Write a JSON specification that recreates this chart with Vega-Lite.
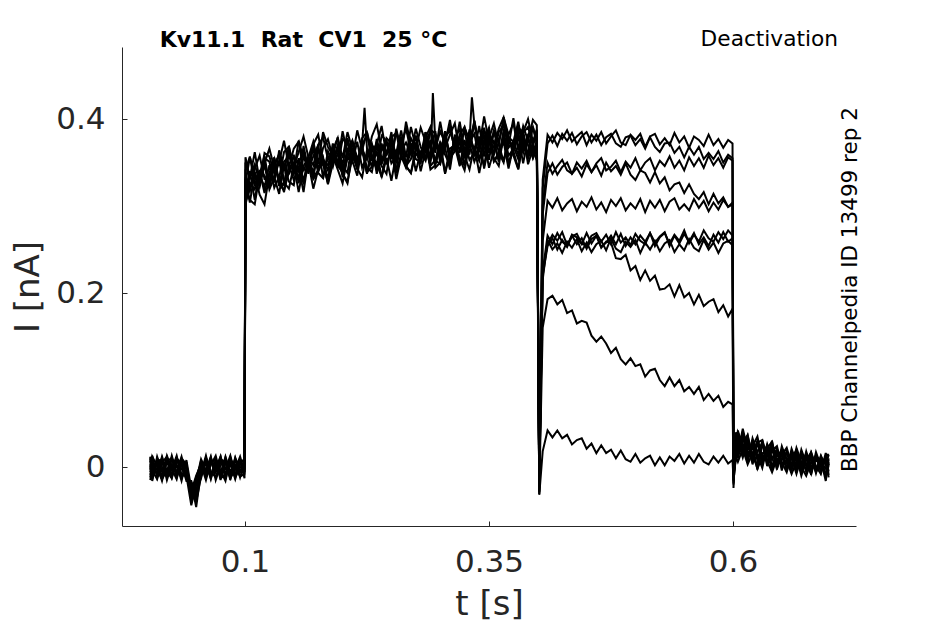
{
"$schema": "https://vega.github.io/schema/vega-lite/v6.json",
"width": 734, "height": 479,
"autosize": {"type": "none"},
"padding": {"left": 122, "top": 47, "right": 89, "bottom": 98},
"background": "white",
"config": {"view": {"stroke": null}, "font": "DejaVu Sans",
 "axis": {"grid": false, "domainColor": "#262626", "tickColor": "#262626", "labelColor": "#262626", "titleColor": "#262626", "labelFont": "DejaVu Sans", "titleFont": "DejaVu Sans", "labelFontSize": 31, "titleFontSize": 34, "titleFontWeight": "normal", "domainWidth": 1, "tickWidth": 1}},
"layer": [
{"data": {"values": [
{"s":1,"t":0.003,"i":0.004},{"s":1,"t":0.005,"i":-0.01},{"s":1,"t":0.01,"i":0.008},{"s":1,"t":0.015,"i":-0.013},{"s":1,"t":0.02,"i":0.006},{"s":1,"t":0.025,"i":-0.004},{"s":1,"t":0.03,"i":0.011},{"s":1,"t":0.035,"i":-0.009},{"s":1,"t":0.04,"i":-0.006},{"s":1,"t":0.045,"i":-0.03},{"s":1,"t":0.05,"i":-0.012},{"s":1,"t":0.055,"i":0.005},{"s":1,"t":0.06,"i":-0.011},{"s":1,"t":0.065,"i":0.009},{"s":1,"t":0.07,"i":-0.003},{"s":1,"t":0.075,"i":0.012},{"s":1,"t":0.08,"i":-0.008},{"s":1,"t":0.085,"i":0.004},{"s":1,"t":0.09,"i":-0.014},{"s":1,"t":0.095,"i":0.007},{"s":1,"t":0.0995,"i":-0.004},
{"s":1,"t":0.1005,"i":0.35},{"s":1,"t":0.105,"i":0.332},{"s":1,"t":0.11,"i":0.362},{"s":1,"t":0.115,"i":0.329},{"s":1,"t":0.12,"i":0.349},{"s":1,"t":0.125,"i":0.366},{"s":1,"t":0.13,"i":0.344},{"s":1,"t":0.135,"i":0.332},{"s":1,"t":0.14,"i":0.362},{"s":1,"t":0.145,"i":0.368},{"s":1,"t":0.15,"i":0.345},{"s":1,"t":0.155,"i":0.362},{"s":1,"t":0.16,"i":0.38},{"s":1,"t":0.165,"i":0.356},{"s":1,"t":0.17,"i":0.347},{"s":1,"t":0.175,"i":0.37},{"s":1,"t":0.18,"i":0.379},{"s":1,"t":0.185,"i":0.354},{"s":1,"t":0.19,"i":0.366},{"s":1,"t":0.195,"i":0.345},{"s":1,"t":0.2,"i":0.377},{"s":1,"t":0.205,"i":0.372},{"s":1,"t":0.21,"i":0.354},{"s":1,"t":0.215,"i":0.387},{"s":1,"t":0.22,"i":0.365},{"s":1,"t":0.225,"i":0.353},{"s":1,"t":0.23,"i":0.38},{"s":1,"t":0.235,"i":0.394},{"s":1,"t":0.24,"i":0.364},{"s":1,"t":0.245,"i":0.372},{"s":1,"t":0.25,"i":0.354},{"s":1,"t":0.255,"i":0.385},{"s":1,"t":0.26,"i":0.371},{"s":1,"t":0.265,"i":0.389},{"s":1,"t":0.27,"i":0.362},{"s":1,"t":0.275,"i":0.381},{"s":1,"t":0.28,"i":0.354},{"s":1,"t":0.285,"i":0.379},{"s":1,"t":0.29,"i":0.391},{"s":1,"t":0.295,"i":0.366},{"s":1,"t":0.3,"i":0.386},{"s":1,"t":0.305,"i":0.372},{"s":1,"t":0.31,"i":0.399},{"s":1,"t":0.315,"i":0.363},{"s":1,"t":0.32,"i":0.382},{"s":1,"t":0.325,"i":0.391},{"s":1,"t":0.33,"i":0.371},{"s":1,"t":0.335,"i":0.398},{"s":1,"t":0.34,"i":0.363},{"s":1,"t":0.345,"i":0.386},{"s":1,"t":0.35,"i":0.378},{"s":1,"t":0.355,"i":0.395},{"s":1,"t":0.36,"i":0.37},{"s":1,"t":0.365,"i":0.402},{"s":1,"t":0.37,"i":0.376},{"s":1,"t":0.375,"i":0.368},{"s":1,"t":0.38,"i":0.39},{"s":1,"t":0.385,"i":0.385},{"s":1,"t":0.39,"i":0.4},{"s":1,"t":0.395,"i":0.374},{"s":1,"t":0.399,"i":0.388},
{"s":1,"t":0.4015,"i":-0.031},{"s":1,"t":0.405,"i":0.33},
{"s":1,"t":0.41,"i":0.382},{"s":1,"t":0.415,"i":0.373},{"s":1,"t":0.42,"i":0.384},{"s":1,"t":0.425,"i":0.377},{"s":1,"t":0.43,"i":0.387},{"s":1,"t":0.435,"i":0.374},{"s":1,"t":0.44,"i":0.38},{"s":1,"t":0.445,"i":0.385},{"s":1,"t":0.45,"i":0.37},{"s":1,"t":0.455,"i":0.382},{"s":1,"t":0.46,"i":0.375},{"s":1,"t":0.465,"i":0.385},{"s":1,"t":0.47,"i":0.372},{"s":1,"t":0.475,"i":0.38},{"s":1,"t":0.48,"i":0.387},{"s":1,"t":0.485,"i":0.373},{"s":1,"t":0.49,"i":0.37},{"s":1,"t":0.495,"i":0.382},{"s":1,"t":0.5,"i":0.376},{"s":1,"t":0.505,"i":0.383},{"s":1,"t":0.51,"i":0.368},{"s":1,"t":0.515,"i":0.38},{"s":1,"t":0.52,"i":0.383},{"s":1,"t":0.525,"i":0.371},{"s":1,"t":0.53,"i":0.378},{"s":1,"t":0.535,"i":0.37},{"s":1,"t":0.54,"i":0.384},{"s":1,"t":0.545,"i":0.373},{"s":1,"t":0.55,"i":0.38},{"s":1,"t":0.555,"i":0.367},{"s":1,"t":0.56,"i":0.38},{"s":1,"t":0.565,"i":0.376},{"s":1,"t":0.57,"i":0.369},{"s":1,"t":0.575,"i":0.382},{"s":1,"t":0.58,"i":0.37},{"s":1,"t":0.585,"i":0.377},{"s":1,"t":0.59,"i":0.367},{"s":1,"t":0.595,"i":0.376},{"s":1,"t":0.5995,"i":0.372},{"s":1,"t":0.6005,"i":-0.024},
{"s":1,"t":0.603,"i":0.04},{"s":1,"t":0.605,"i":0.022},{"s":1,"t":0.61,"i":0.036},{"s":1,"t":0.615,"i":0.01},{"s":1,"t":0.62,"i":0.031},{"s":1,"t":0.625,"i":0.008},{"s":1,"t":0.63,"i":0.027},{"s":1,"t":0.635,"i":0.001},{"s":1,"t":0.64,"i":0.024},{"s":1,"t":0.645,"i":0.004},{"s":1,"t":0.65,"i":0.02},{"s":1,"t":0.655,"i":-0.002},{"s":1,"t":0.66,"i":0.018},{"s":1,"t":0.665,"i":0.0},{"s":1,"t":0.67,"i":0.016},{"s":1,"t":0.675,"i":-0.006},{"s":1,"t":0.68,"i":0.014},{"s":1,"t":0.685,"i":-0.004},{"s":1,"t":0.69,"i":0.012},{"s":1,"t":0.695,"i":-0.01},{"s":1,"t":0.698,"i":0.01},

{"s":2,"t":0.003,"i":-0.012},{"s":2,"t":0.005,"i":0.006},{"s":2,"t":0.01,"i":-0.008},{"s":2,"t":0.015,"i":0.01},{"s":2,"t":0.02,"i":-0.015},{"s":2,"t":0.025,"i":0.003},{"s":2,"t":0.03,"i":-0.006},{"s":2,"t":0.035,"i":0.012},{"s":2,"t":0.04,"i":-0.01},{"s":2,"t":0.045,"i":-0.044},{"s":2,"t":0.05,"i":-0.02},{"s":2,"t":0.055,"i":-0.009},{"s":2,"t":0.06,"i":0.008},{"s":2,"t":0.065,"i":-0.013},{"s":2,"t":0.07,"i":0.004},{"s":2,"t":0.075,"i":-0.007},{"s":2,"t":0.08,"i":0.011},{"s":2,"t":0.085,"i":-0.012},{"s":2,"t":0.09,"i":0.002},{"s":2,"t":0.095,"i":0.009},{"s":2,"t":0.0995,"i":-0.006},
{"s":2,"t":0.1005,"i":0.301},{"s":2,"t":0.105,"i":0.327},{"s":2,"t":0.11,"i":0.319},{"s":2,"t":0.115,"i":0.34},{"s":2,"t":0.12,"i":0.315},{"s":2,"t":0.125,"i":0.338},{"s":2,"t":0.13,"i":0.354},{"s":2,"t":0.135,"i":0.325},{"s":2,"t":0.14,"i":0.318},{"s":2,"t":0.145,"i":0.339},{"s":2,"t":0.15,"i":0.348},{"s":2,"t":0.155,"i":0.316},{"s":2,"t":0.16,"i":0.346},{"s":2,"t":0.165,"i":0.356},{"s":2,"t":0.17,"i":0.333},{"s":2,"t":0.175,"i":0.341},{"s":2,"t":0.18,"i":0.356},{"s":2,"t":0.185,"i":0.33},{"s":2,"t":0.19,"i":0.365},{"s":2,"t":0.195,"i":0.351},{"s":2,"t":0.2,"i":0.337},{"s":2,"t":0.205,"i":0.328},{"s":2,"t":0.21,"i":0.356},{"s":2,"t":0.215,"i":0.352},{"s":2,"t":0.22,"i":0.365},{"s":2,"t":0.225,"i":0.344},{"s":2,"t":0.23,"i":0.339},{"s":2,"t":0.235,"i":0.369},{"s":2,"t":0.24,"i":0.349},{"s":2,"t":0.245,"i":0.362},{"s":2,"t":0.25,"i":0.375},{"s":2,"t":0.255,"i":0.338},{"s":2,"t":0.26,"i":0.36},{"s":2,"t":0.265,"i":0.346},{"s":2,"t":0.27,"i":0.338},{"s":2,"t":0.275,"i":0.367},{"s":2,"t":0.28,"i":0.357},{"s":2,"t":0.285,"i":0.375},{"s":2,"t":0.29,"i":0.346},{"s":2,"t":0.295,"i":0.353},{"s":2,"t":0.3,"i":0.374},{"s":2,"t":0.305,"i":0.338},{"s":2,"t":0.31,"i":0.366},{"s":2,"t":0.315,"i":0.37},{"s":2,"t":0.32,"i":0.354},{"s":2,"t":0.325,"i":0.347},{"s":2,"t":0.33,"i":0.38},{"s":2,"t":0.335,"i":0.365},{"s":2,"t":0.34,"i":0.352},{"s":2,"t":0.345,"i":0.376},{"s":2,"t":0.35,"i":0.344},{"s":2,"t":0.355,"i":0.364},{"s":2,"t":0.36,"i":0.371},{"s":2,"t":0.365,"i":0.351},{"s":2,"t":0.37,"i":0.38},{"s":2,"t":0.375,"i":0.358},{"s":2,"t":0.38,"i":0.342},{"s":2,"t":0.385,"i":0.377},{"s":2,"t":0.39,"i":0.37},{"s":2,"t":0.395,"i":0.356},{"s":2,"t":0.399,"i":0.374},
{"s":2,"t":0.4015,"i":-0.026},{"s":2,"t":0.405,"i":0.32},
{"s":2,"t":0.41,"i":0.372},{"s":2,"t":0.415,"i":0.381},{"s":2,"t":0.42,"i":0.369},{"s":2,"t":0.425,"i":0.383},{"s":2,"t":0.43,"i":0.375},{"s":2,"t":0.435,"i":0.384},{"s":2,"t":0.44,"i":0.371},{"s":2,"t":0.445,"i":0.38},{"s":2,"t":0.45,"i":0.385},{"s":2,"t":0.455,"i":0.373},{"s":2,"t":0.46,"i":0.382},{"s":2,"t":0.465,"i":0.37},{"s":2,"t":0.47,"i":0.379},{"s":2,"t":0.475,"i":0.383},{"s":2,"t":0.48,"i":0.372},{"s":2,"t":0.485,"i":0.368},{"s":2,"t":0.49,"i":0.379},{"s":2,"t":0.495,"i":0.381},{"s":2,"t":0.5,"i":0.37},{"s":2,"t":0.505,"i":0.377},{"s":2,"t":0.51,"i":0.366},{"s":2,"t":0.515,"i":0.379},{"s":2,"t":0.52,"i":0.368},{"s":2,"t":0.525,"i":0.362},{"s":2,"t":0.53,"i":0.372},{"s":2,"t":0.535,"i":0.373},{"s":2,"t":0.54,"i":0.361},{"s":2,"t":0.545,"i":0.368},{"s":2,"t":0.55,"i":0.356},{"s":2,"t":0.555,"i":0.368},{"s":2,"t":0.56,"i":0.359},{"s":2,"t":0.565,"i":0.368},{"s":2,"t":0.57,"i":0.354},{"s":2,"t":0.575,"i":0.361},{"s":2,"t":0.58,"i":0.354},{"s":2,"t":0.585,"i":0.363},{"s":2,"t":0.59,"i":0.35},{"s":2,"t":0.595,"i":0.359},{"s":2,"t":0.5995,"i":0.355},{"s":2,"t":0.6005,"i":-0.01},
{"s":2,"t":0.603,"i":0.015},{"s":2,"t":0.605,"i":0.038},{"s":2,"t":0.61,"i":0.012},{"s":2,"t":0.615,"i":0.032},{"s":2,"t":0.62,"i":0.006},{"s":2,"t":0.625,"i":0.03},{"s":2,"t":0.63,"i":0.002},{"s":2,"t":0.635,"i":0.026},{"s":2,"t":0.64,"i":0.008},{"s":2,"t":0.645,"i":0.021},{"s":2,"t":0.65,"i":-0.004},{"s":2,"t":0.655,"i":0.019},{"s":2,"t":0.66,"i":0.002},{"s":2,"t":0.665,"i":0.015},{"s":2,"t":0.67,"i":-0.007},{"s":2,"t":0.675,"i":0.018},{"s":2,"t":0.68,"i":-0.001},{"s":2,"t":0.685,"i":0.013},{"s":2,"t":0.69,"i":-0.006},{"s":2,"t":0.695,"i":0.016},{"s":2,"t":0.698,"i":0.002},

{"s":3,"t":0.003,"i":0.009},{"s":3,"t":0.005,"i":-0.004},{"s":3,"t":0.01,"i":-0.014},{"s":3,"t":0.015,"i":0.005},{"s":3,"t":0.02,"i":0.012},{"s":3,"t":0.025,"i":-0.01},{"s":3,"t":0.03,"i":0.003},{"s":3,"t":0.035,"i":-0.016},{"s":3,"t":0.04,"i":0.008},{"s":3,"t":0.045,"i":-0.025},{"s":3,"t":0.05,"i":-0.038},{"s":3,"t":0.055,"i":0.007},{"s":3,"t":0.06,"i":-0.012},{"s":3,"t":0.065,"i":0.002},{"s":3,"t":0.07,"i":0.013},{"s":3,"t":0.075,"i":-0.009},{"s":3,"t":0.08,"i":0.006},{"s":3,"t":0.085,"i":-0.015},{"s":3,"t":0.09,"i":0.01},{"s":3,"t":0.095,"i":-0.005},{"s":3,"t":0.0995,"i":0.002},
{"s":3,"t":0.1005,"i":0.341},{"s":3,"t":0.105,"i":0.357},{"s":3,"t":0.11,"i":0.325},{"s":3,"t":0.115,"i":0.336},{"s":3,"t":0.12,"i":0.358},{"s":3,"t":0.125,"i":0.324},{"s":3,"t":0.13,"i":0.348},{"s":3,"t":0.135,"i":0.358},{"s":3,"t":0.14,"i":0.341},{"s":3,"t":0.145,"i":0.369},{"s":3,"t":0.15,"i":0.337},{"s":3,"t":0.155,"i":0.35},{"s":3,"t":0.16,"i":0.363},{"s":3,"t":0.165,"i":0.337},{"s":3,"t":0.17,"i":0.371},{"s":3,"t":0.175,"i":0.382},{"s":3,"t":0.18,"i":0.352},{"s":3,"t":0.185,"i":0.347},{"s":3,"t":0.19,"i":0.365},{"s":3,"t":0.195,"i":0.378},{"s":3,"t":0.2,"i":0.34},{"s":3,"t":0.205,"i":0.365},{"s":3,"t":0.21,"i":0.375},{"s":3,"t":0.215,"i":0.355},{"s":3,"t":0.22,"i":0.364},{"s":3,"t":0.225,"i":0.385},{"s":3,"t":0.23,"i":0.352},{"s":3,"t":0.235,"i":0.374},{"s":3,"t":0.24,"i":0.348},{"s":3,"t":0.245,"i":0.378},{"s":3,"t":0.25,"i":0.372},{"s":3,"t":0.255,"i":0.361},{"s":3,"t":0.26,"i":0.387},{"s":3,"t":0.265,"i":0.356},{"s":3,"t":0.27,"i":0.391},{"s":3,"t":0.275,"i":0.368},{"s":3,"t":0.28,"i":0.355},{"s":3,"t":0.285,"i":0.38},{"s":3,"t":0.29,"i":0.367},{"s":3,"t":0.295,"i":0.386},{"s":3,"t":0.3,"i":0.349},{"s":3,"t":0.305,"i":0.379},{"s":3,"t":0.31,"i":0.391},{"s":3,"t":0.315,"i":0.364},{"s":3,"t":0.32,"i":0.372},{"s":3,"t":0.325,"i":0.386},{"s":3,"t":0.33,"i":0.359},{"s":3,"t":0.335,"i":0.398},{"s":3,"t":0.34,"i":0.369},{"s":3,"t":0.345,"i":0.376},{"s":3,"t":0.35,"i":0.39},{"s":3,"t":0.355,"i":0.358},{"s":3,"t":0.36,"i":0.385},{"s":3,"t":0.365,"i":0.393},{"s":3,"t":0.37,"i":0.367},{"s":3,"t":0.375,"i":0.374},{"s":3,"t":0.38,"i":0.397},{"s":3,"t":0.385,"i":0.365},{"s":3,"t":0.39,"i":0.382},{"s":3,"t":0.395,"i":0.391},{"s":3,"t":0.399,"i":0.373},
{"s":3,"t":0.4015,"i":-0.022},{"s":3,"t":0.405,"i":0.3},
{"s":3,"t":0.41,"i":0.35},{"s":3,"t":0.415,"i":0.337},{"s":3,"t":0.42,"i":0.346},{"s":3,"t":0.425,"i":0.353},{"s":3,"t":0.43,"i":0.341},{"s":3,"t":0.435,"i":0.337},{"s":3,"t":0.44,"i":0.35},{"s":3,"t":0.445,"i":0.343},{"s":3,"t":0.45,"i":0.352},{"s":3,"t":0.455,"i":0.339},{"s":3,"t":0.46,"i":0.349},{"s":3,"t":0.465,"i":0.355},{"s":3,"t":0.47,"i":0.341},{"s":3,"t":0.475,"i":0.345},{"s":3,"t":0.48,"i":0.352},{"s":3,"t":0.485,"i":0.339},{"s":3,"t":0.49,"i":0.351},{"s":3,"t":0.495,"i":0.344},{"s":3,"t":0.5,"i":0.355},{"s":3,"t":0.505,"i":0.341},{"s":3,"t":0.51,"i":0.35},{"s":3,"t":0.515,"i":0.355},{"s":3,"t":0.52,"i":0.341},{"s":3,"t":0.525,"i":0.352},{"s":3,"t":0.53,"i":0.346},{"s":3,"t":0.535,"i":0.357},{"s":3,"t":0.54,"i":0.344},{"s":3,"t":0.545,"i":0.352},{"s":3,"t":0.55,"i":0.341},{"s":3,"t":0.555,"i":0.356},{"s":3,"t":0.56,"i":0.346},{"s":3,"t":0.565,"i":0.355},{"s":3,"t":0.57,"i":0.344},{"s":3,"t":0.575,"i":0.358},{"s":3,"t":0.58,"i":0.347},{"s":3,"t":0.585,"i":0.355},{"s":3,"t":0.59,"i":0.344},{"s":3,"t":0.595,"i":0.356},{"s":3,"t":0.5995,"i":0.352},{"s":3,"t":0.6005,"i":-0.018},
{"s":3,"t":0.603,"i":0.032},{"s":3,"t":0.605,"i":0.012},{"s":3,"t":0.61,"i":0.041},{"s":3,"t":0.615,"i":0.015},{"s":3,"t":0.62,"i":0.024},{"s":3,"t":0.625,"i":0.035},{"s":3,"t":0.63,"i":0.008},{"s":3,"t":0.635,"i":0.022},{"s":3,"t":0.64,"i":0.029},{"s":3,"t":0.645,"i":-0.002},{"s":3,"t":0.65,"i":0.02},{"s":3,"t":0.655,"i":0.01},{"s":3,"t":0.66,"i":-0.004},{"s":3,"t":0.665,"i":0.022},{"s":3,"t":0.67,"i":0.006},{"s":3,"t":0.675,"i":-0.003},{"s":3,"t":0.68,"i":0.017},{"s":3,"t":0.685,"i":0.001},{"s":3,"t":0.69,"i":-0.008},{"s":3,"t":0.695,"i":0.012},{"s":3,"t":0.698,"i":0.015},

{"s":4,"t":0.003,"i":-0.006},{"s":4,"t":0.005,"i":0.012},{"s":4,"t":0.01,"i":0.001},{"s":4,"t":0.015,"i":-0.016},{"s":4,"t":0.02,"i":0.007},{"s":4,"t":0.025,"i":0.01},{"s":4,"t":0.03,"i":-0.012},{"s":4,"t":0.035,"i":0.004},{"s":4,"t":0.04,"i":-0.014},{"s":4,"t":0.045,"i":-0.018},{"s":4,"t":0.05,"i":-0.046},{"s":4,"t":0.055,"i":-0.005},{"s":4,"t":0.06,"i":0.01},{"s":4,"t":0.065,"i":-0.008},{"s":4,"t":0.07,"i":-0.003},{"s":4,"t":0.075,"i":0.012},{"s":4,"t":0.08,"i":-0.014},{"s":4,"t":0.085,"i":0.008},{"s":4,"t":0.09,"i":0.001},{"s":4,"t":0.095,"i":-0.011},{"s":4,"t":0.0995,"i":-0.008},
{"s":4,"t":0.1005,"i":0.319},{"s":4,"t":0.105,"i":0.34},{"s":4,"t":0.11,"i":0.307},{"s":4,"t":0.115,"i":0.34},{"s":4,"t":0.12,"i":0.335},{"s":4,"t":0.125,"i":0.322},{"s":4,"t":0.13,"i":0.355},{"s":4,"t":0.135,"i":0.329},{"s":4,"t":0.14,"i":0.324},{"s":4,"t":0.145,"i":0.362},{"s":4,"t":0.15,"i":0.348},{"s":4,"t":0.155,"i":0.34},{"s":4,"t":0.16,"i":0.327},{"s":4,"t":0.165,"i":0.357},{"s":4,"t":0.17,"i":0.338},{"s":4,"t":0.175,"i":0.366},{"s":4,"t":0.18,"i":0.349},{"s":4,"t":0.185,"i":0.326},{"s":4,"t":0.19,"i":0.358},{"s":4,"t":0.195,"i":0.364},{"s":4,"t":0.2,"i":0.346},{"s":4,"t":0.205,"i":0.338},{"s":4,"t":0.21,"i":0.374},{"s":4,"t":0.215,"i":0.352},{"s":4,"t":0.22,"i":0.364},{"s":4,"t":0.225,"i":0.337},{"s":4,"t":0.23,"i":0.371},{"s":4,"t":0.235,"i":0.36},{"s":4,"t":0.24,"i":0.346},{"s":4,"t":0.245,"i":0.337},{"s":4,"t":0.25,"i":0.374},{"s":4,"t":0.255,"i":0.351},{"s":4,"t":0.26,"i":0.37},{"s":4,"t":0.265,"i":0.346},{"s":4,"t":0.27,"i":0.362},{"s":4,"t":0.275,"i":0.38},{"s":4,"t":0.28,"i":0.351},{"s":4,"t":0.285,"i":0.368},{"s":4,"t":0.29,"i":0.346},{"s":4,"t":0.2925,"i":0.43},{"s":4,"t":0.295,"i":0.374},{"s":4,"t":0.3,"i":0.359},{"s":4,"t":0.305,"i":0.386},{"s":4,"t":0.31,"i":0.355},{"s":4,"t":0.315,"i":0.363},{"s":4,"t":0.32,"i":0.379},{"s":4,"t":0.325,"i":0.346},{"s":4,"t":0.33,"i":0.373},{"s":4,"t":0.335,"i":0.383},{"s":4,"t":0.34,"i":0.354},{"s":4,"t":0.345,"i":0.371},{"s":4,"t":0.35,"i":0.386},{"s":4,"t":0.355,"i":0.352},{"s":4,"t":0.36,"i":0.361},{"s":4,"t":0.365,"i":0.379},{"s":4,"t":0.37,"i":0.346},{"s":4,"t":0.375,"i":0.372},{"s":4,"t":0.38,"i":0.384},{"s":4,"t":0.385,"i":0.361},{"s":4,"t":0.39,"i":0.379},{"s":4,"t":0.395,"i":0.355},{"s":4,"t":0.399,"i":0.366},
{"s":4,"t":0.4015,"i":-0.028},{"s":4,"t":0.405,"i":0.29},
{"s":4,"t":0.41,"i":0.338},{"s":4,"t":0.415,"i":0.349},{"s":4,"t":0.42,"i":0.336},{"s":4,"t":0.425,"i":0.345},{"s":4,"t":0.43,"i":0.35},{"s":4,"t":0.435,"i":0.337},{"s":4,"t":0.44,"i":0.344},{"s":4,"t":0.445,"i":0.334},{"s":4,"t":0.45,"i":0.348},{"s":4,"t":0.455,"i":0.339},{"s":4,"t":0.46,"i":0.347},{"s":4,"t":0.465,"i":0.335},{"s":4,"t":0.47,"i":0.35},{"s":4,"t":0.475,"i":0.34},{"s":4,"t":0.48,"i":0.346},{"s":4,"t":0.485,"i":0.336},{"s":4,"t":0.49,"i":0.349},{"s":4,"t":0.495,"i":0.336},{"s":4,"t":0.5,"i":0.33},{"s":4,"t":0.505,"i":0.341},{"s":4,"t":0.51,"i":0.338},{"s":4,"t":0.515,"i":0.327},{"s":4,"t":0.52,"i":0.339},{"s":4,"t":0.525,"i":0.326},{"s":4,"t":0.53,"i":0.333},{"s":4,"t":0.535,"i":0.318},{"s":4,"t":0.54,"i":0.325},{"s":4,"t":0.545,"i":0.327},{"s":4,"t":0.55,"i":0.315},{"s":4,"t":0.555,"i":0.325},{"s":4,"t":0.56,"i":0.314},{"s":4,"t":0.565,"i":0.308},{"s":4,"t":0.57,"i":0.316},{"s":4,"t":0.575,"i":0.302},{"s":4,"t":0.58,"i":0.314},{"s":4,"t":0.585,"i":0.303},{"s":4,"t":0.59,"i":0.31},{"s":4,"t":0.595,"i":0.299},{"s":4,"t":0.5995,"i":0.304},{"s":4,"t":0.6005,"i":-0.005},
{"s":4,"t":0.603,"i":0.02},{"s":4,"t":0.605,"i":0.042},{"s":4,"t":0.61,"i":0.018},{"s":4,"t":0.615,"i":0.036},{"s":4,"t":0.62,"i":0.009},{"s":4,"t":0.625,"i":0.028},{"s":4,"t":0.63,"i":0.031},{"s":4,"t":0.635,"i":0.004},{"s":4,"t":0.64,"i":0.027},{"s":4,"t":0.645,"i":0.012},{"s":4,"t":0.65,"i":0.018},{"s":4,"t":0.655,"i":-0.005},{"s":4,"t":0.66,"i":0.021},{"s":4,"t":0.665,"i":0.006},{"s":4,"t":0.67,"i":-0.004},{"s":4,"t":0.675,"i":0.015},{"s":4,"t":0.68,"i":-0.009},{"s":4,"t":0.685,"i":0.014},{"s":4,"t":0.69,"i":0.003},{"s":4,"t":0.695,"i":-0.01},{"s":4,"t":0.698,"i":0.004},

{"s":5,"t":0.003,"i":0.007},{"s":5,"t":0.005,"i":-0.014},{"s":5,"t":0.01,"i":0.01},{"s":5,"t":0.015,"i":0.0},{"s":5,"t":0.02,"i":-0.01},{"s":5,"t":0.025,"i":0.013},{"s":5,"t":0.03,"i":-0.007},{"s":5,"t":0.035,"i":0.009},{"s":5,"t":0.04,"i":-0.003},{"s":5,"t":0.045,"i":-0.035},{"s":5,"t":0.05,"i":-0.016},{"s":5,"t":0.055,"i":0.009},{"s":5,"t":0.06,"i":-0.004},{"s":5,"t":0.065,"i":0.012},{"s":5,"t":0.07,"i":-0.015},{"s":5,"t":0.075,"i":0.002},{"s":5,"t":0.08,"i":0.008},{"s":5,"t":0.085,"i":-0.01},{"s":5,"t":0.09,"i":0.011},{"s":5,"t":0.095,"i":-0.006},{"s":5,"t":0.0995,"i":0.006},
{"s":5,"t":0.1005,"i":0.356},{"s":5,"t":0.105,"i":0.332},{"s":5,"t":0.11,"i":0.348},{"s":5,"t":0.115,"i":0.327},{"s":5,"t":0.12,"i":0.361},{"s":5,"t":0.125,"i":0.357},{"s":5,"t":0.13,"i":0.338},{"s":5,"t":0.135,"i":0.351},{"s":5,"t":0.14,"i":0.375},{"s":5,"t":0.145,"i":0.345},{"s":5,"t":0.15,"i":0.366},{"s":5,"t":0.155,"i":0.374},{"s":5,"t":0.16,"i":0.34},{"s":5,"t":0.165,"i":0.356},{"s":5,"t":0.17,"i":0.374},{"s":5,"t":0.175,"i":0.348},{"s":5,"t":0.18,"i":0.385},{"s":5,"t":0.185,"i":0.368},{"s":5,"t":0.19,"i":0.358},{"s":5,"t":0.195,"i":0.379},{"s":5,"t":0.2,"i":0.355},{"s":5,"t":0.205,"i":0.385},{"s":5,"t":0.21,"i":0.365},{"s":5,"t":0.215,"i":0.349},{"s":5,"t":0.22,"i":0.378},{"s":5,"t":0.225,"i":0.385},{"s":5,"t":0.23,"i":0.363},{"s":5,"t":0.235,"i":0.371},{"s":5,"t":0.24,"i":0.392},{"s":5,"t":0.245,"i":0.358},{"s":5,"t":0.25,"i":0.379},{"s":5,"t":0.255,"i":0.384},{"s":5,"t":0.26,"i":0.357},{"s":5,"t":0.265,"i":0.397},{"s":5,"t":0.27,"i":0.37},{"s":5,"t":0.275,"i":0.365},{"s":5,"t":0.28,"i":0.39},{"s":5,"t":0.285,"i":0.374},{"s":5,"t":0.29,"i":0.386},{"s":5,"t":0.295,"i":0.361},{"s":5,"t":0.3,"i":0.397},{"s":5,"t":0.305,"i":0.367},{"s":5,"t":0.31,"i":0.382},{"s":5,"t":0.315,"i":0.395},{"s":5,"t":0.32,"i":0.361},{"s":5,"t":0.325,"i":0.39},{"s":5,"t":0.33,"i":0.376},{"s":5,"t":0.335,"i":0.394},{"s":5,"t":0.34,"i":0.368},{"s":5,"t":0.345,"i":0.403},{"s":5,"t":0.35,"i":0.374},{"s":5,"t":0.355,"i":0.367},{"s":5,"t":0.36,"i":0.389},{"s":5,"t":0.365,"i":0.402},{"s":5,"t":0.37,"i":0.382},{"s":5,"t":0.375,"i":0.395},{"s":5,"t":0.38,"i":0.365},{"s":5,"t":0.385,"i":0.392},{"s":5,"t":0.39,"i":0.375},{"s":5,"t":0.395,"i":0.399},{"s":5,"t":0.399,"i":0.393},
{"s":5,"t":0.4015,"i":-0.018},{"s":5,"t":0.405,"i":0.26},
{"s":5,"t":0.41,"i":0.306},{"s":5,"t":0.415,"i":0.298},{"s":5,"t":0.42,"i":0.309},{"s":5,"t":0.425,"i":0.295},{"s":5,"t":0.43,"i":0.303},{"s":5,"t":0.435,"i":0.308},{"s":5,"t":0.44,"i":0.294},{"s":5,"t":0.445,"i":0.305},{"s":5,"t":0.45,"i":0.299},{"s":5,"t":0.455,"i":0.31},{"s":5,"t":0.46,"i":0.296},{"s":5,"t":0.465,"i":0.304},{"s":5,"t":0.47,"i":0.293},{"s":5,"t":0.475,"i":0.307},{"s":5,"t":0.48,"i":0.3},{"s":5,"t":0.485,"i":0.309},{"s":5,"t":0.49,"i":0.295},{"s":5,"t":0.495,"i":0.303},{"s":5,"t":0.5,"i":0.297},{"s":5,"t":0.505,"i":0.308},{"s":5,"t":0.51,"i":0.293},{"s":5,"t":0.515,"i":0.306},{"s":5,"t":0.52,"i":0.298},{"s":5,"t":0.525,"i":0.307},{"s":5,"t":0.53,"i":0.294},{"s":5,"t":0.535,"i":0.305},{"s":5,"t":0.54,"i":0.309},{"s":5,"t":0.545,"i":0.296},{"s":5,"t":0.55,"i":0.302},{"s":5,"t":0.555,"i":0.295},{"s":5,"t":0.56,"i":0.308},{"s":5,"t":0.565,"i":0.298},{"s":5,"t":0.57,"i":0.306},{"s":5,"t":0.575,"i":0.294},{"s":5,"t":0.58,"i":0.304},{"s":5,"t":0.585,"i":0.296},{"s":5,"t":0.59,"i":0.307},{"s":5,"t":0.595,"i":0.299},{"s":5,"t":0.5995,"i":0.302},{"s":5,"t":0.6005,"i":-0.015},
{"s":5,"t":0.603,"i":0.038},{"s":5,"t":0.605,"i":0.019},{"s":5,"t":0.61,"i":0.029},{"s":5,"t":0.615,"i":0.037},{"s":5,"t":0.62,"i":0.011},{"s":5,"t":0.625,"i":0.002},{"s":5,"t":0.63,"i":0.026},{"s":5,"t":0.635,"i":0.013},{"s":5,"t":0.64,"i":0.03},{"s":5,"t":0.645,"i":-0.003},{"s":5,"t":0.65,"i":0.024},{"s":5,"t":0.655,"i":0.008},{"s":5,"t":0.66,"i":0.015},{"s":5,"t":0.665,"i":-0.006},{"s":5,"t":0.67,"i":0.02},{"s":5,"t":0.675,"i":0.004},{"s":5,"t":0.68,"i":-0.008},{"s":5,"t":0.685,"i":0.017},{"s":5,"t":0.69,"i":0.001},{"s":5,"t":0.695,"i":0.011},{"s":5,"t":0.698,"i":-0.005},

{"s":6,"t":0.003,"i":-0.015},{"s":6,"t":0.005,"i":0.002},{"s":6,"t":0.01,"i":-0.009},{"s":6,"t":0.015,"i":0.012},{"s":6,"t":0.02,"i":-0.005},{"s":6,"t":0.025,"i":-0.013},{"s":6,"t":0.03,"i":0.008},{"s":6,"t":0.035,"i":-0.002},{"s":6,"t":0.04,"i":-0.011},{"s":6,"t":0.045,"i":-0.022},{"s":6,"t":0.05,"i":-0.04},{"s":6,"t":0.055,"i":-0.011},{"s":6,"t":0.06,"i":0.005},{"s":6,"t":0.065,"i":-0.014},{"s":6,"t":0.07,"i":0.009},{"s":6,"t":0.075,"i":-0.004},{"s":6,"t":0.08,"i":-0.016},{"s":6,"t":0.085,"i":0.01},{"s":6,"t":0.09,"i":-0.003},{"s":6,"t":0.095,"i":0.007},{"s":6,"t":0.0995,"i":-0.013},
{"s":6,"t":0.1005,"i":0.304},{"s":6,"t":0.105,"i":0.321},{"s":6,"t":0.11,"i":0.337},{"s":6,"t":0.115,"i":0.313},{"s":6,"t":0.12,"i":0.302},{"s":6,"t":0.125,"i":0.337},{"s":6,"t":0.13,"i":0.333},{"s":6,"t":0.135,"i":0.314},{"s":6,"t":0.14,"i":0.349},{"s":6,"t":0.145,"i":0.328},{"s":6,"t":0.15,"i":0.324},{"s":6,"t":0.155,"i":0.355},{"s":6,"t":0.16,"i":0.329},{"s":6,"t":0.165,"i":0.35},{"s":6,"t":0.17,"i":0.32},{"s":6,"t":0.175,"i":0.342},{"s":6,"t":0.18,"i":0.349},{"s":6,"t":0.185,"i":0.328},{"s":6,"t":0.19,"i":0.358},{"s":6,"t":0.195,"i":0.342},{"s":6,"t":0.2,"i":0.326},{"s":6,"t":0.205,"i":0.356},{"s":6,"t":0.21,"i":0.352},{"s":6,"t":0.215,"i":0.335},{"s":6,"t":0.22,"i":0.37},{"s":6,"t":0.225,"i":0.339},{"s":6,"t":0.23,"i":0.345},{"s":6,"t":0.235,"i":0.363},{"s":6,"t":0.24,"i":0.333},{"s":6,"t":0.245,"i":0.355},{"s":6,"t":0.25,"i":0.329},{"s":6,"t":0.255,"i":0.36},{"s":6,"t":0.26,"i":0.369},{"s":6,"t":0.265,"i":0.346},{"s":6,"t":0.27,"i":0.338},{"s":6,"t":0.275,"i":0.361},{"s":6,"t":0.28,"i":0.351},{"s":6,"t":0.285,"i":0.374},{"s":6,"t":0.29,"i":0.342},{"s":6,"t":0.295,"i":0.347},{"s":6,"t":0.3,"i":0.368},{"s":6,"t":0.305,"i":0.337},{"s":6,"t":0.31,"i":0.36},{"s":6,"t":0.315,"i":0.375},{"s":6,"t":0.32,"i":0.348},{"s":6,"t":0.325,"i":0.358},{"s":6,"t":0.33,"i":0.342},{"s":6,"t":0.335,"i":0.369},{"s":6,"t":0.34,"i":0.338},{"s":6,"t":0.345,"i":0.366},{"s":6,"t":0.35,"i":0.375},{"s":6,"t":0.355,"i":0.355},{"s":6,"t":0.36,"i":0.346},{"s":6,"t":0.365,"i":0.382},{"s":6,"t":0.37,"i":0.35},{"s":6,"t":0.375,"i":0.363},{"s":6,"t":0.38,"i":0.343},{"s":6,"t":0.385,"i":0.375},{"s":6,"t":0.39,"i":0.355},{"s":6,"t":0.395,"i":0.37},{"s":6,"t":0.399,"i":0.359},
{"s":6,"t":0.4015,"i":-0.02},{"s":6,"t":0.405,"i":0.225},
{"s":6,"t":0.41,"i":0.256},{"s":6,"t":0.415,"i":0.267},{"s":6,"t":0.42,"i":0.26},{"s":6,"t":0.425,"i":0.27},{"s":6,"t":0.43,"i":0.255},{"s":6,"t":0.435,"i":0.265},{"s":6,"t":0.44,"i":0.268},{"s":6,"t":0.445,"i":0.257},{"s":6,"t":0.45,"i":0.254},{"s":6,"t":0.455,"i":0.266},{"s":6,"t":0.46,"i":0.269},{"s":6,"t":0.465,"i":0.259},{"s":6,"t":0.47,"i":0.267},{"s":6,"t":0.475,"i":0.256},{"s":6,"t":0.48,"i":0.27},{"s":6,"t":0.485,"i":0.258},{"s":6,"t":0.49,"i":0.264},{"s":6,"t":0.495,"i":0.255},{"s":6,"t":0.5,"i":0.268},{"s":6,"t":0.505,"i":0.26},{"s":6,"t":0.51,"i":0.256},{"s":6,"t":0.515,"i":0.269},{"s":6,"t":0.52,"i":0.258},{"s":6,"t":0.525,"i":0.265},{"s":6,"t":0.53,"i":0.27},{"s":6,"t":0.535,"i":0.254},{"s":6,"t":0.54,"i":0.266},{"s":6,"t":0.545,"i":0.257},{"s":6,"t":0.55,"i":0.268},{"s":6,"t":0.555,"i":0.259},{"s":6,"t":0.56,"i":0.269},{"s":6,"t":0.565,"i":0.256},{"s":6,"t":0.57,"i":0.264},{"s":6,"t":0.575,"i":0.254},{"s":6,"t":0.58,"i":0.267},{"s":6,"t":0.585,"i":0.258},{"s":6,"t":0.59,"i":0.27},{"s":6,"t":0.595,"i":0.259},{"s":6,"t":0.5995,"i":0.263},{"s":6,"t":0.6005,"i":-0.008},
{"s":6,"t":0.603,"i":0.01},{"s":6,"t":0.605,"i":0.034},{"s":6,"t":0.61,"i":0.024},{"s":6,"t":0.615,"i":0.005},{"s":6,"t":0.62,"i":0.033},{"s":6,"t":0.625,"i":0.017},{"s":6,"t":0.63,"i":0.028},{"s":6,"t":0.635,"i":0.006},{"s":6,"t":0.64,"i":0.019},{"s":6,"t":0.645,"i":0.024},{"s":6,"t":0.65,"i":0.002},{"s":6,"t":0.655,"i":0.016},{"s":6,"t":0.66,"i":0.009},{"s":6,"t":0.665,"i":0.02},{"s":6,"t":0.67,"i":-0.002},{"s":6,"t":0.675,"i":0.01},{"s":6,"t":0.68,"i":0.014},{"s":6,"t":0.685,"i":-0.007},{"s":6,"t":0.69,"i":0.013},{"s":6,"t":0.695,"i":0.002},{"s":6,"t":0.698,"i":0.014},

{"s":7,"t":0.003,"i":0.011},{"s":7,"t":0.005,"i":-0.007},{"s":7,"t":0.01,"i":0.004},{"s":7,"t":0.015,"i":-0.011},{"s":7,"t":0.02,"i":0.013},{"s":7,"t":0.025,"i":-0.002},{"s":7,"t":0.03,"i":-0.014},{"s":7,"t":0.035,"i":0.01},{"s":7,"t":0.04,"i":0.003},{"s":7,"t":0.045,"i":-0.028},{"s":7,"t":0.05,"i":-0.01},{"s":7,"t":0.055,"i":0.003},{"s":7,"t":0.06,"i":-0.015},{"s":7,"t":0.065,"i":0.007},{"s":7,"t":0.07,"i":0.001},{"s":7,"t":0.075,"i":-0.01},{"s":7,"t":0.08,"i":0.012},{"s":7,"t":0.085,"i":-0.006},{"s":7,"t":0.09,"i":0.009},{"s":7,"t":0.095,"i":-0.012},{"s":7,"t":0.0995,"i":0.004},
{"s":7,"t":0.1005,"i":0.333},{"s":7,"t":0.105,"i":0.317},{"s":7,"t":0.11,"i":0.343},{"s":7,"t":0.115,"i":0.358},{"s":7,"t":0.12,"i":0.331},{"s":7,"t":0.125,"i":0.328},{"s":7,"t":0.13,"i":0.356},{"s":7,"t":0.135,"i":0.323},{"s":7,"t":0.14,"i":0.351},{"s":7,"t":0.145,"i":0.357},{"s":7,"t":0.15,"i":0.345},{"s":7,"t":0.155,"i":0.332},{"s":7,"t":0.16,"i":0.369},{"s":7,"t":0.165,"i":0.342},{"s":7,"t":0.17,"i":0.357},{"s":7,"t":0.175,"i":0.37},{"s":7,"t":0.18,"i":0.332},{"s":7,"t":0.185,"i":0.363},{"s":7,"t":0.19,"i":0.351},{"s":7,"t":0.195,"i":0.37},{"s":7,"t":0.2,"i":0.347},{"s":7,"t":0.205,"i":0.378},{"s":7,"t":0.21,"i":0.357},{"s":7,"t":0.215,"i":0.346},{"s":7,"t":0.22,"i":0.371},{"s":7,"t":0.2225,"i":0.413},{"s":7,"t":0.225,"i":0.366},{"s":7,"t":0.23,"i":0.344},{"s":7,"t":0.235,"i":0.377},{"s":7,"t":0.24,"i":0.355},{"s":7,"t":0.245,"i":0.359},{"s":7,"t":0.25,"i":0.385},{"s":7,"t":0.255,"i":0.351},{"s":7,"t":0.26,"i":0.372},{"s":7,"t":0.265,"i":0.346},{"s":7,"t":0.27,"i":0.378},{"s":7,"t":0.275,"i":0.367},{"s":7,"t":0.28,"i":0.357},{"s":7,"t":0.285,"i":0.385},{"s":7,"t":0.29,"i":0.352},{"s":7,"t":0.295,"i":0.374},{"s":7,"t":0.3,"i":0.363},{"s":7,"t":0.305,"i":0.383},{"s":7,"t":0.31,"i":0.349},{"s":7,"t":0.315,"i":0.379},{"s":7,"t":0.32,"i":0.388},{"s":7,"t":0.325,"i":0.359},{"s":7,"t":0.33,"i":0.374},{"s":7,"t":0.335,"i":0.364},{"s":7,"t":0.34,"i":0.392},{"s":7,"t":0.345,"i":0.357},{"s":7,"t":0.35,"i":0.384},{"s":7,"t":0.355,"i":0.372},{"s":7,"t":0.36,"i":0.354},{"s":7,"t":0.365,"i":0.387},{"s":7,"t":0.37,"i":0.379},{"s":7,"t":0.375,"i":0.363},{"s":7,"t":0.38,"i":0.392},{"s":7,"t":0.385,"i":0.368},{"s":7,"t":0.39,"i":0.361},{"s":7,"t":0.395,"i":0.391},{"s":7,"t":0.399,"i":0.371},
{"s":7,"t":0.4015,"i":-0.015},{"s":7,"t":0.405,"i":0.215},
{"s":7,"t":0.41,"i":0.261},{"s":7,"t":0.415,"i":0.25},{"s":7,"t":0.42,"i":0.257},{"s":7,"t":0.425,"i":0.246},{"s":7,"t":0.43,"i":0.259},{"s":7,"t":0.435,"i":0.252},{"s":7,"t":0.44,"i":0.262},{"s":7,"t":0.445,"i":0.248},{"s":7,"t":0.45,"i":0.258},{"s":7,"t":0.455,"i":0.247},{"s":7,"t":0.46,"i":0.256},{"s":7,"t":0.465,"i":0.26},{"s":7,"t":0.47,"i":0.249},{"s":7,"t":0.475,"i":0.263},{"s":7,"t":0.48,"i":0.251},{"s":7,"t":0.485,"i":0.247},{"s":7,"t":0.49,"i":0.259},{"s":7,"t":0.495,"i":0.253},{"s":7,"t":0.5,"i":0.261},{"s":7,"t":0.505,"i":0.246},{"s":7,"t":0.51,"i":0.258},{"s":7,"t":0.515,"i":0.25},{"s":7,"t":0.52,"i":0.26},{"s":7,"t":0.525,"i":0.248},{"s":7,"t":0.53,"i":0.257},{"s":7,"t":0.535,"i":0.261},{"s":7,"t":0.54,"i":0.247},{"s":7,"t":0.545,"i":0.256},{"s":7,"t":0.55,"i":0.249},{"s":7,"t":0.555,"i":0.262},{"s":7,"t":0.56,"i":0.252},{"s":7,"t":0.565,"i":0.248},{"s":7,"t":0.57,"i":0.261},{"s":7,"t":0.575,"i":0.25},{"s":7,"t":0.58,"i":0.258},{"s":7,"t":0.585,"i":0.246},{"s":7,"t":0.59,"i":0.257},{"s":7,"t":0.595,"i":0.26},{"s":7,"t":0.5995,"i":0.255},{"s":7,"t":0.6005,"i":-0.02},
{"s":7,"t":0.603,"i":0.028},{"s":7,"t":0.605,"i":0.015},{"s":7,"t":0.61,"i":0.044},{"s":7,"t":0.615,"i":0.02},{"s":7,"t":0.62,"i":0.025},{"s":7,"t":0.625,"i":-0.003},{"s":7,"t":0.63,"i":0.031},{"s":7,"t":0.635,"i":0.012},{"s":7,"t":0.64,"i":0.021},{"s":7,"t":0.645,"i":-0.001},{"s":7,"t":0.65,"i":0.014},{"s":7,"t":0.655,"i":0.022},{"s":7,"t":0.66,"i":0.003},{"s":7,"t":0.665,"i":0.012},{"s":7,"t":0.67,"i":-0.01},{"s":7,"t":0.675,"i":0.008},{"s":7,"t":0.68,"i":0.017},{"s":7,"t":0.685,"i":-0.004},{"s":7,"t":0.69,"i":0.009},{"s":7,"t":0.695,"i":-0.016},{"s":7,"t":0.698,"i":0.006},

{"s":8,"t":0.003,"i":-0.003},{"s":8,"t":0.005,"i":0.013},{"s":8,"t":0.01,"i":-0.012},{"s":8,"t":0.015,"i":0.006},{"s":8,"t":0.02,"i":-0.012},{"s":8,"t":0.025,"i":0.009},{"s":8,"t":0.03,"i":0.001},{"s":8,"t":0.035,"i":-0.013},{"s":8,"t":0.04,"i":0.006},{"s":8,"t":0.045,"i":-0.04},{"s":8,"t":0.05,"i":-0.026},{"s":8,"t":0.055,"i":-0.013},{"s":8,"t":0.06,"i":0.011},{"s":8,"t":0.065,"i":-0.005},{"s":8,"t":0.07,"i":-0.012},{"s":8,"t":0.075,"i":0.006},{"s":8,"t":0.08,"i":-0.002},{"s":8,"t":0.085,"i":0.013},{"s":8,"t":0.09,"i":-0.009},{"s":8,"t":0.095,"i":0.003},{"s":8,"t":0.0995,"i":0.01},
{"s":8,"t":0.1005,"i":0.331},{"s":8,"t":0.105,"i":0.304},{"s":8,"t":0.11,"i":0.339},{"s":8,"t":0.115,"i":0.322},{"s":8,"t":0.12,"i":0.348},{"s":8,"t":0.125,"i":0.319},{"s":8,"t":0.13,"i":0.333},{"s":8,"t":0.135,"i":0.351},{"s":8,"t":0.14,"i":0.327},{"s":8,"t":0.145,"i":0.32},{"s":8,"t":0.15,"i":0.347},{"s":8,"t":0.155,"i":0.353},{"s":8,"t":0.16,"i":0.327},{"s":8,"t":0.165,"i":0.347},{"s":8,"t":0.17,"i":0.366},{"s":8,"t":0.175,"i":0.338},{"s":8,"t":0.18,"i":0.332},{"s":8,"t":0.185,"i":0.357},{"s":8,"t":0.19,"i":0.345},{"s":8,"t":0.195,"i":0.368},{"s":8,"t":0.2,"i":0.333},{"s":8,"t":0.205,"i":0.356},{"s":8,"t":0.21,"i":0.365},{"s":8,"t":0.215,"i":0.343},{"s":8,"t":0.22,"i":0.333},{"s":8,"t":0.225,"i":0.364},{"s":8,"t":0.23,"i":0.356},{"s":8,"t":0.235,"i":0.342},{"s":8,"t":0.24,"i":0.372},{"s":8,"t":0.245,"i":0.35},{"s":8,"t":0.25,"i":0.364},{"s":8,"t":0.255,"i":0.34},{"s":8,"t":0.26,"i":0.379},{"s":8,"t":0.265,"i":0.346},{"s":8,"t":0.27,"i":0.354},{"s":8,"t":0.275,"i":0.373},{"s":8,"t":0.28,"i":0.34},{"s":8,"t":0.285,"i":0.364},{"s":8,"t":0.29,"i":0.372},{"s":8,"t":0.295,"i":0.353},{"s":8,"t":0.3,"i":0.348},{"s":8,"t":0.305,"i":0.381},{"s":8,"t":0.31,"i":0.36},{"s":8,"t":0.315,"i":0.369},{"s":8,"t":0.32,"i":0.346},{"s":8,"t":0.325,"i":0.376},{"s":8,"t":0.33,"i":0.353},{"s":8,"t":0.335,"i":0.361},{"s":8,"t":0.34,"i":0.38},{"s":8,"t":0.345,"i":0.343},{"s":8,"t":0.35,"i":0.371},{"s":8,"t":0.355,"i":0.375},{"s":8,"t":0.36,"i":0.351},{"s":8,"t":0.365,"i":0.385},{"s":8,"t":0.37,"i":0.358},{"s":8,"t":0.375,"i":0.365},{"s":8,"t":0.38,"i":0.38},{"s":8,"t":0.385,"i":0.349},{"s":8,"t":0.39,"i":0.378},{"s":8,"t":0.395,"i":0.362},{"s":8,"t":0.399,"i":0.374},
{"s":8,"t":0.4015,"i":-0.024},{"s":8,"t":0.405,"i":0.22},
{"s":8,"t":0.41,"i":0.254},{"s":8,"t":0.415,"i":0.263},{"s":8,"t":0.42,"i":0.25},{"s":8,"t":0.425,"i":0.261},{"s":8,"t":0.43,"i":0.253},{"s":8,"t":0.435,"i":0.266},{"s":8,"t":0.44,"i":0.256},{"s":8,"t":0.445,"i":0.263},{"s":8,"t":0.45,"i":0.251},{"s":8,"t":0.455,"i":0.262},{"s":8,"t":0.46,"i":0.266},{"s":8,"t":0.465,"i":0.253},{"s":8,"t":0.47,"i":0.258},{"s":8,"t":0.475,"i":0.266},{"s":8,"t":0.48,"i":0.256},{"s":8,"t":0.485,"i":0.268},{"s":8,"t":0.49,"i":0.254},{"s":8,"t":0.495,"i":0.264},{"s":8,"t":0.5,"i":0.256},{"s":8,"t":0.505,"i":0.266},{"s":8,"t":0.51,"i":0.259},{"s":8,"t":0.515,"i":0.269},{"s":8,"t":0.52,"i":0.254},{"s":8,"t":0.525,"i":0.264},{"s":8,"t":0.53,"i":0.269},{"s":8,"t":0.535,"i":0.257},{"s":8,"t":0.54,"i":0.267},{"s":8,"t":0.545,"i":0.26},{"s":8,"t":0.55,"i":0.272},{"s":8,"t":0.555,"i":0.257},{"s":8,"t":0.56,"i":0.267},{"s":8,"t":0.565,"i":0.259},{"s":8,"t":0.57,"i":0.272},{"s":8,"t":0.575,"i":0.263},{"s":8,"t":0.58,"i":0.259},{"s":8,"t":0.585,"i":0.27},{"s":8,"t":0.59,"i":0.262},{"s":8,"t":0.595,"i":0.272},{"s":8,"t":0.5995,"i":0.266},{"s":8,"t":0.6005,"i":-0.002},
{"s":8,"t":0.603,"i":0.035},{"s":8,"t":0.605,"i":0.03},{"s":8,"t":0.61,"i":0.011},{"s":8,"t":0.615,"i":0.029},{"s":8,"t":0.62,"i":0.003},{"s":8,"t":0.625,"i":0.027},{"s":8,"t":0.63,"i":0.014},{"s":8,"t":0.635,"i":0.025},{"s":8,"t":0.64,"i":0.0},{"s":8,"t":0.645,"i":0.02},{"s":8,"t":0.65,"i":0.008},{"s":8,"t":0.655,"i":0.017},{"s":8,"t":0.66,"i":-0.003},{"s":8,"t":0.665,"i":0.019},{"s":8,"t":0.67,"i":0.004},{"s":8,"t":0.675,"i":0.011},{"s":8,"t":0.68,"i":-0.006},{"s":8,"t":0.685,"i":0.013},{"s":8,"t":0.69,"i":0.006},{"s":8,"t":0.695,"i":-0.002},{"s":8,"t":0.698,"i":0.008},

{"s":9,"t":0.003,"i":0.002},{"s":9,"t":0.005,"i":-0.016},{"s":9,"t":0.01,"i":0.012},{"s":9,"t":0.015,"i":-0.005},{"s":9,"t":0.02,"i":0.008},{"s":9,"t":0.025,"i":-0.012},{"s":9,"t":0.03,"i":0.01},{"s":9,"t":0.035,"i":0.004},{"s":9,"t":0.04,"i":-0.016},{"s":9,"t":0.045,"i":-0.016},{"s":9,"t":0.05,"i":-0.034},{"s":9,"t":0.055,"i":0.008},{"s":9,"t":0.06,"i":-0.009},{"s":9,"t":0.065,"i":0.011},{"s":9,"t":0.07,"i":-0.006},{"s":9,"t":0.075,"i":0.009},{"s":9,"t":0.08,"i":0.005},{"s":9,"t":0.085,"i":-0.013},{"s":9,"t":0.09,"i":-0.002},{"s":9,"t":0.095,"i":0.012},{"s":9,"t":0.0995,"i":-0.006},
{"s":9,"t":0.1005,"i":0.327},{"s":9,"t":0.105,"i":0.356},{"s":9,"t":0.11,"i":0.337},{"s":9,"t":0.115,"i":0.326},{"s":9,"t":0.12,"i":0.355},{"s":9,"t":0.125,"i":0.351},{"s":9,"t":0.13,"i":0.327},{"s":9,"t":0.135,"i":0.364},{"s":9,"t":0.14,"i":0.344},{"s":9,"t":0.145,"i":0.361},{"s":9,"t":0.15,"i":0.34},{"s":9,"t":0.155,"i":0.375},{"s":9,"t":0.16,"i":0.355},{"s":9,"t":0.165,"i":0.346},{"s":9,"t":0.17,"i":0.372},{"s":9,"t":0.175,"i":0.341},{"s":9,"t":0.18,"i":0.367},{"s":9,"t":0.185,"i":0.377},{"s":9,"t":0.19,"i":0.356},{"s":9,"t":0.195,"i":0.35},{"s":9,"t":0.2,"i":0.386},{"s":9,"t":0.205,"i":0.36},{"s":9,"t":0.21,"i":0.375},{"s":9,"t":0.215,"i":0.349},{"s":9,"t":0.22,"i":0.37},{"s":9,"t":0.225,"i":0.382},{"s":9,"t":0.23,"i":0.358},{"s":9,"t":0.235,"i":0.348},{"s":9,"t":0.24,"i":0.381},{"s":9,"t":0.245,"i":0.375},{"s":9,"t":0.25,"i":0.355},{"s":9,"t":0.255,"i":0.389},{"s":9,"t":0.26,"i":0.363},{"s":9,"t":0.265,"i":0.373},{"s":9,"t":0.27,"i":0.36},{"s":9,"t":0.275,"i":0.389},{"s":9,"t":0.28,"i":0.368},{"s":9,"t":0.285,"i":0.355},{"s":9,"t":0.29,"i":0.388},{"s":9,"t":0.295,"i":0.383},{"s":9,"t":0.3,"i":0.353},{"s":9,"t":0.305,"i":0.379},{"s":9,"t":0.31,"i":0.387},{"s":9,"t":0.315,"i":0.367},{"s":9,"t":0.32,"i":0.397},{"s":9,"t":0.325,"i":0.364},{"s":9,"t":0.33,"i":0.375},{"s":9,"t":0.3325,"i":0.425},{"s":9,"t":0.335,"i":0.394},{"s":9,"t":0.34,"i":0.371},{"s":9,"t":0.345,"i":0.39},{"s":9,"t":0.35,"i":0.361},{"s":9,"t":0.355,"i":0.387},{"s":9,"t":0.36,"i":0.375},{"s":9,"t":0.365,"i":0.395},{"s":9,"t":0.37,"i":0.369},{"s":9,"t":0.375,"i":0.401},{"s":9,"t":0.38,"i":0.364},{"s":9,"t":0.385,"i":0.384},{"s":9,"t":0.39,"i":0.391},{"s":9,"t":0.395,"i":0.368},{"s":9,"t":0.399,"i":0.387},
{"s":9,"t":0.4015,"i":-0.012},{"s":9,"t":0.405,"i":0.225},
{"s":9,"t":0.41,"i":0.266},{"s":9,"t":0.415,"i":0.256},{"s":9,"t":0.42,"i":0.269},{"s":9,"t":0.425,"i":0.259},{"s":9,"t":0.43,"i":0.254},{"s":9,"t":0.435,"i":0.267},{"s":9,"t":0.44,"i":0.264},{"s":9,"t":0.445,"i":0.256},{"s":9,"t":0.45,"i":0.269},{"s":9,"t":0.455,"i":0.257},{"s":9,"t":0.46,"i":0.266},{"s":9,"t":0.465,"i":0.252},{"s":9,"t":0.47,"i":0.259},{"s":9,"t":0.475,"i":0.258},{"s":9,"t":0.48,"i":0.24},{"s":9,"t":0.485,"i":0.239},{"s":9,"t":0.49,"i":0.244},{"s":9,"t":0.495,"i":0.226},{"s":9,"t":0.5,"i":0.231},{"s":9,"t":0.505,"i":0.215},{"s":9,"t":0.51,"i":0.226},{"s":9,"t":0.515,"i":0.214},{"s":9,"t":0.52,"i":0.22},{"s":9,"t":0.525,"i":0.204},{"s":9,"t":0.53,"i":0.205},{"s":9,"t":0.535,"i":0.21},{"s":9,"t":0.54,"i":0.196},{"s":9,"t":0.545,"i":0.209},{"s":9,"t":0.55,"i":0.195},{"s":9,"t":0.555,"i":0.2},{"s":9,"t":0.56,"i":0.187},{"s":9,"t":0.565,"i":0.198},{"s":9,"t":0.57,"i":0.185},{"s":9,"t":0.575,"i":0.19},{"s":9,"t":0.58,"i":0.193},{"s":9,"t":0.585,"i":0.178},{"s":9,"t":0.59,"i":0.186},{"s":9,"t":0.595,"i":0.173},{"s":9,"t":0.5995,"i":0.182},{"s":9,"t":0.6005,"i":-0.012},
{"s":9,"t":0.603,"i":0.018},{"s":9,"t":0.605,"i":0.04},{"s":9,"t":0.61,"i":0.027},{"s":9,"t":0.615,"i":0.009},{"s":9,"t":0.62,"i":0.023},{"s":9,"t":0.625,"i":0.014},{"s":9,"t":0.63,"i":-0.001},{"s":9,"t":0.635,"i":0.024},{"s":9,"t":0.64,"i":0.011},{"s":9,"t":0.645,"i":0.016},{"s":9,"t":0.65,"i":0.005},{"s":9,"t":0.655,"i":-0.006},{"s":9,"t":0.66,"i":0.014},{"s":9,"t":0.665,"i":0.01},{"s":9,"t":0.67,"i":0.002},{"s":9,"t":0.675,"i":0.016},{"s":9,"t":0.68,"i":-0.005},{"s":9,"t":0.685,"i":0.009},{"s":9,"t":0.69,"i":0.0},{"s":9,"t":0.695,"i":0.012},{"s":9,"t":0.698,"i":-0.009},

{"s":10,"t":0.003,"i":-0.009},{"s":10,"t":0.005,"i":0.005},{"s":10,"t":0.01,"i":-0.003},{"s":10,"t":0.015,"i":-0.014},{"s":10,"t":0.02,"i":-0.004},{"s":10,"t":0.025,"i":0.011},{"s":10,"t":0.03,"i":-0.009},{"s":10,"t":0.035,"i":0.006},{"s":10,"t":0.04,"i":0.002},{"s":10,"t":0.045,"i":-0.038},{"s":10,"t":0.05,"i":-0.018},{"s":10,"t":0.055,"i":-0.007},{"s":10,"t":0.06,"i":0.013},{"s":10,"t":0.065,"i":-0.01},{"s":10,"t":0.07,"i":0.008},{"s":10,"t":0.075,"i":-0.015},{"s":10,"t":0.08,"i":0.007},{"s":10,"t":0.085,"i":0.002},{"s":10,"t":0.09,"i":-0.008},{"s":10,"t":0.095,"i":0.004},{"s":10,"t":0.0995,"i":0.0},
{"s":10,"t":0.1005,"i":0.304},{"s":10,"t":0.105,"i":0.338},{"s":10,"t":0.11,"i":0.332},{"s":10,"t":0.115,"i":0.324},{"s":10,"t":0.12,"i":0.351},{"s":10,"t":0.125,"i":0.322},{"s":10,"t":0.13,"i":0.346},{"s":10,"t":0.135,"i":0.36},{"s":10,"t":0.14,"i":0.329},{"s":10,"t":0.145,"i":0.337},{"s":10,"t":0.15,"i":0.359},{"s":10,"t":0.155,"i":0.326},{"s":10,"t":0.16,"i":0.357},{"s":10,"t":0.165,"i":0.345},{"s":10,"t":0.17,"i":0.333},{"s":10,"t":0.175,"i":0.364},{"s":10,"t":0.18,"i":0.354},{"s":10,"t":0.185,"i":0.341},{"s":10,"t":0.19,"i":0.372},{"s":10,"t":0.195,"i":0.346},{"s":10,"t":0.2,"i":0.339},{"s":10,"t":0.205,"i":0.363},{"s":10,"t":0.21,"i":0.351},{"s":10,"t":0.215,"i":0.374},{"s":10,"t":0.22,"i":0.344},{"s":10,"t":0.225,"i":0.358},{"s":10,"t":0.23,"i":0.371},{"s":10,"t":0.235,"i":0.337},{"s":10,"t":0.24,"i":0.366},{"s":10,"t":0.245,"i":0.375},{"s":10,"t":0.25,"i":0.349},{"s":10,"t":0.255,"i":0.357},{"s":10,"t":0.26,"i":0.38},{"s":10,"t":0.265,"i":0.344},{"s":10,"t":0.27,"i":0.372},{"s":10,"t":0.275,"i":0.354},{"s":10,"t":0.28,"i":0.35},{"s":10,"t":0.285,"i":0.385},{"s":10,"t":0.29,"i":0.367},{"s":10,"t":0.295,"i":0.349},{"s":10,"t":0.3,"i":0.373},{"s":10,"t":0.305,"i":0.359},{"s":10,"t":0.31,"i":0.347},{"s":10,"t":0.315,"i":0.38},{"s":10,"t":0.32,"i":0.372},{"s":10,"t":0.325,"i":0.355},{"s":10,"t":0.33,"i":0.388},{"s":10,"t":0.335,"i":0.358},{"s":10,"t":0.34,"i":0.367},{"s":10,"t":0.345,"i":0.381},{"s":10,"t":0.35,"i":0.353},{"s":10,"t":0.355,"i":0.386},{"s":10,"t":0.36,"i":0.362},{"s":10,"t":0.365,"i":0.35},{"s":10,"t":0.37,"i":0.379},{"s":10,"t":0.375,"i":0.374},{"s":10,"t":0.38,"i":0.359},{"s":10,"t":0.385,"i":0.386},{"s":10,"t":0.39,"i":0.357},{"s":10,"t":0.395,"i":0.373},{"s":10,"t":0.399,"i":0.383},
{"s":10,"t":0.4015,"i":-0.029},{"s":10,"t":0.405,"i":0.16},
{"s":10,"t":0.41,"i":0.193},{"s":10,"t":0.415,"i":0.197},{"s":10,"t":0.42,"i":0.187},{"s":10,"t":0.425,"i":0.192},{"s":10,"t":0.43,"i":0.177},{"s":10,"t":0.435,"i":0.18},{"s":10,"t":0.44,"i":0.165},{"s":10,"t":0.445,"i":0.168},{"s":10,"t":0.45,"i":0.166},{"s":10,"t":0.455,"i":0.151},{"s":10,"t":0.46,"i":0.144},{"s":10,"t":0.465,"i":0.15},{"s":10,"t":0.47,"i":0.142},{"s":10,"t":0.475,"i":0.131},{"s":10,"t":0.48,"i":0.137},{"s":10,"t":0.485,"i":0.124},{"s":10,"t":0.49,"i":0.118},{"s":10,"t":0.495,"i":0.125},{"s":10,"t":0.5,"i":0.116},{"s":10,"t":0.505,"i":0.118},{"s":10,"t":0.51,"i":0.104},{"s":10,"t":0.515,"i":0.111},{"s":10,"t":0.52,"i":0.113},{"s":10,"t":0.525,"i":0.1},{"s":10,"t":0.53,"i":0.093},{"s":10,"t":0.535,"i":0.103},{"s":10,"t":0.54,"i":0.093},{"s":10,"t":0.545,"i":0.1},{"s":10,"t":0.55,"i":0.087},{"s":10,"t":0.555,"i":0.092},{"s":10,"t":0.56,"i":0.084},{"s":10,"t":0.565,"i":0.092},{"s":10,"t":0.57,"i":0.077},{"s":10,"t":0.575,"i":0.084},{"s":10,"t":0.58,"i":0.076},{"s":10,"t":0.585,"i":0.082},{"s":10,"t":0.59,"i":0.069},{"s":10,"t":0.595,"i":0.075},{"s":10,"t":0.5995,"i":0.072},{"s":10,"t":0.6005,"i":-0.006},
{"s":10,"t":0.603,"i":0.022},{"s":10,"t":0.605,"i":0.01},{"s":10,"t":0.61,"i":0.033},{"s":10,"t":0.615,"i":0.025},{"s":10,"t":0.62,"i":0.014},{"s":10,"t":0.625,"i":0.03},{"s":10,"t":0.63,"i":0.009},{"s":10,"t":0.635,"i":0.018},{"s":10,"t":0.64,"i":-0.004},{"s":10,"t":0.645,"i":0.019},{"s":10,"t":0.65,"i":0.013},{"s":10,"t":0.655,"i":0.004},{"s":10,"t":0.66,"i":0.01},{"s":10,"t":0.665,"i":-0.008},{"s":10,"t":0.67,"i":0.012},{"s":10,"t":0.675,"i":0.001},{"s":10,"t":0.68,"i":0.009},{"s":10,"t":0.685,"i":-0.006},{"s":10,"t":0.69,"i":0.005},{"s":10,"t":0.695,"i":0.008},{"s":10,"t":0.698,"i":-0.012},

{"s":11,"t":0.003,"i":0.012},{"s":11,"t":0.005,"i":-0.011},{"s":11,"t":0.01,"i":0.007},{"s":11,"t":0.015,"i":0.009},{"s":11,"t":0.02,"i":-0.007},{"s":11,"t":0.025,"i":-0.003},{"s":11,"t":0.03,"i":0.013},{"s":11,"t":0.035,"i":-0.011},{"s":11,"t":0.04,"i":-0.008},{"s":11,"t":0.045,"i":-0.024},{"s":11,"t":0.05,"i":-0.03},{"s":11,"t":0.055,"i":0.001},{"s":11,"t":0.06,"i":-0.006},{"s":11,"t":0.065,"i":0.004},{"s":11,"t":0.07,"i":0.01},{"s":11,"t":0.075,"i":-0.013},{"s":11,"t":0.08,"i":-0.009},{"s":11,"t":0.085,"i":0.011},{"s":11,"t":0.09,"i":-0.012},{"s":11,"t":0.095,"i":-0.001},{"s":11,"t":0.0995,"i":0.005},
{"s":11,"t":0.1005,"i":0.323},{"s":11,"t":0.105,"i":0.307},{"s":11,"t":0.11,"i":0.302},{"s":11,"t":0.115,"i":0.336},{"s":11,"t":0.12,"i":0.322},{"s":11,"t":0.125,"i":0.347},{"s":11,"t":0.13,"i":0.321},{"s":11,"t":0.135,"i":0.334},{"s":11,"t":0.14,"i":0.316},{"s":11,"t":0.145,"i":0.347},{"s":11,"t":0.15,"i":0.33},{"s":11,"t":0.155,"i":0.345},{"s":11,"t":0.16,"i":0.316},{"s":11,"t":0.165,"i":0.355},{"s":11,"t":0.17,"i":0.331},{"s":11,"t":0.175,"i":0.339},{"s":11,"t":0.18,"i":0.354},{"s":11,"t":0.185,"i":0.325},{"s":11,"t":0.19,"i":0.349},{"s":11,"t":0.195,"i":0.36},{"s":11,"t":0.2,"i":0.337},{"s":11,"t":0.205,"i":0.326},{"s":11,"t":0.21,"i":0.361},{"s":11,"t":0.215,"i":0.342},{"s":11,"t":0.22,"i":0.368},{"s":11,"t":0.225,"i":0.338},{"s":11,"t":0.23,"i":0.358},{"s":11,"t":0.235,"i":0.348},{"s":11,"t":0.24,"i":0.334},{"s":11,"t":0.245,"i":0.362},{"s":11,"t":0.25,"i":0.366},{"s":11,"t":0.255,"i":0.331},{"s":11,"t":0.26,"i":0.357},{"s":11,"t":0.265,"i":0.344},{"s":11,"t":0.27,"i":0.37},{"s":11,"t":0.275,"i":0.34},{"s":11,"t":0.28,"i":0.362},{"s":11,"t":0.285,"i":0.352},{"s":11,"t":0.29,"i":0.376},{"s":11,"t":0.295,"i":0.344},{"s":11,"t":0.3,"i":0.35},{"s":11,"t":0.305,"i":0.367},{"s":11,"t":0.31,"i":0.342},{"s":11,"t":0.315,"i":0.379},{"s":11,"t":0.32,"i":0.354},{"s":11,"t":0.325,"i":0.341},{"s":11,"t":0.33,"i":0.372},{"s":11,"t":0.335,"i":0.351},{"s":11,"t":0.34,"i":0.366},{"s":11,"t":0.345,"i":0.346},{"s":11,"t":0.35,"i":0.379},{"s":11,"t":0.355,"i":0.351},{"s":11,"t":0.36,"i":0.359},{"s":11,"t":0.365,"i":0.374},{"s":11,"t":0.37,"i":0.343},{"s":11,"t":0.375,"i":0.369},{"s":11,"t":0.38,"i":0.354},{"s":11,"t":0.385,"i":0.383},{"s":11,"t":0.39,"i":0.348},{"s":11,"t":0.395,"i":0.366},{"s":11,"t":0.399,"i":0.352},
{"s":11,"t":0.4015,"i":-0.032},{"s":11,"t":0.405,"i":0.018},
{"s":11,"t":0.41,"i":0.042},{"s":11,"t":0.415,"i":0.034},{"s":11,"t":0.42,"i":0.042},{"s":11,"t":0.425,"i":0.033},{"s":11,"t":0.43,"i":0.037},{"s":11,"t":0.435,"i":0.026},{"s":11,"t":0.44,"i":0.031},{"s":11,"t":0.445,"i":0.033},{"s":11,"t":0.45,"i":0.021},{"s":11,"t":0.455,"i":0.027},{"s":11,"t":0.46,"i":0.016},{"s":11,"t":0.465,"i":0.025},{"s":11,"t":0.47,"i":0.016},{"s":11,"t":0.475,"i":0.02},{"s":11,"t":0.48,"i":0.01},{"s":11,"t":0.485,"i":0.019},{"s":11,"t":0.49,"i":0.009},{"s":11,"t":0.495,"i":0.006},{"s":11,"t":0.5,"i":0.015},{"s":11,"t":0.505,"i":0.005},{"s":11,"t":0.51,"i":0.01},{"s":11,"t":0.515,"i":0.013},{"s":11,"t":0.52,"i":0.002},{"s":11,"t":0.525,"i":0.011},{"s":11,"t":0.53,"i":0.002},{"s":11,"t":0.535,"i":0.012},{"s":11,"t":0.54,"i":0.007},{"s":11,"t":0.545,"i":0.015},{"s":11,"t":0.55,"i":0.004},{"s":11,"t":0.555,"i":0.013},{"s":11,"t":0.56,"i":0.005},{"s":11,"t":0.565,"i":0.015},{"s":11,"t":0.57,"i":0.006},{"s":11,"t":0.575,"i":0.003},{"s":11,"t":0.58,"i":0.012},{"s":11,"t":0.585,"i":0.005},{"s":11,"t":0.59,"i":0.013},{"s":11,"t":0.595,"i":0.004},{"s":11,"t":0.5995,"i":0.008},{"s":11,"t":0.6005,"i":-0.016},
{"s":11,"t":0.603,"i":0.012},{"s":11,"t":0.605,"i":0.006},{"s":11,"t":0.61,"i":0.021},{"s":11,"t":0.615,"i":0.003},{"s":11,"t":0.62,"i":0.016},{"s":11,"t":0.625,"i":-0.002},{"s":11,"t":0.63,"i":0.012},{"s":11,"t":0.635,"i":0.007},{"s":11,"t":0.64,"i":-0.006},{"s":11,"t":0.645,"i":0.01},{"s":11,"t":0.65,"i":0.002},{"s":11,"t":0.655,"i":0.008},{"s":11,"t":0.66,"i":-0.008},{"s":11,"t":0.665,"i":0.006},{"s":11,"t":0.67,"i":0.0},{"s":11,"t":0.675,"i":-0.01},{"s":11,"t":0.68,"i":0.006},{"s":11,"t":0.685,"i":-0.003},{"s":11,"t":0.69,"i":0.008},{"s":11,"t":0.695,"i":-0.012},{"s":11,"t":0.698,"i":0.002}
]},
 "mark": {"type": "line", "color": "black", "strokeWidth": 2},
 "encoding": {
  "x": {"field": "t", "type": "quantitative", "scale": {"domain": [-0.026, 0.726], "nice": false, "zero": false},
        "axis": {"values": [0.1, 0.35, 0.6], "format": "~g", "title": "t [s]", "tickSize": -5, "labelPadding": 26, "titlePadding": 10}},
  "y": {"field": "i", "type": "quantitative", "scale": {"domain": [-0.0678, 0.4828], "nice": false, "zero": false},
        "axis": {"values": [0, 0.2, 0.4], "format": "~g", "title": "I [nA]", "tickSize": -5, "labelPadding": 22, "titlePadding": 10}},
  "detail": {"field": "s", "type": "nominal"}
 }
},
{"data": {"values": [{"txt": "Kv11.1\u00a0\u00a0Rat\u00a0\u00a0CV1\u00a0\u00a025 °C"}]},
 "mark": {"type": "text", "font": "DejaVu Sans", "fontSize": 22, "fontWeight": "bold", "align": "center", "baseline": "alphabetic", "color": "black"},
 "encoding": {"text": {"field": "txt"}, "x": {"datum": 0.16}, "y": {"datum": 0.4828}}},
{"data": {"values": [{"txt": "Deactivation"}]},
 "mark": {"type": "text", "font": "DejaVu Sans", "fontSize": 21.7, "align": "right", "baseline": "alphabetic", "color": "black"},
 "encoding": {"text": {"field": "txt"}, "x": {"datum": 0.7076}, "y": {"datum": 0.484}}},
{"data": {"values": [{"txt": "BBP Channelpedia ID 13499 rep 2"}]},
 "mark": {"type": "text", "font": "DejaVu Sans", "fontSize": 21.5, "angle": 270, "align": "center", "baseline": "alphabetic", "color": "black"},
 "encoding": {"text": {"field": "txt"}, "x": {"datum": 0.727}, "y": {"datum": 0.204}}}
]
}
